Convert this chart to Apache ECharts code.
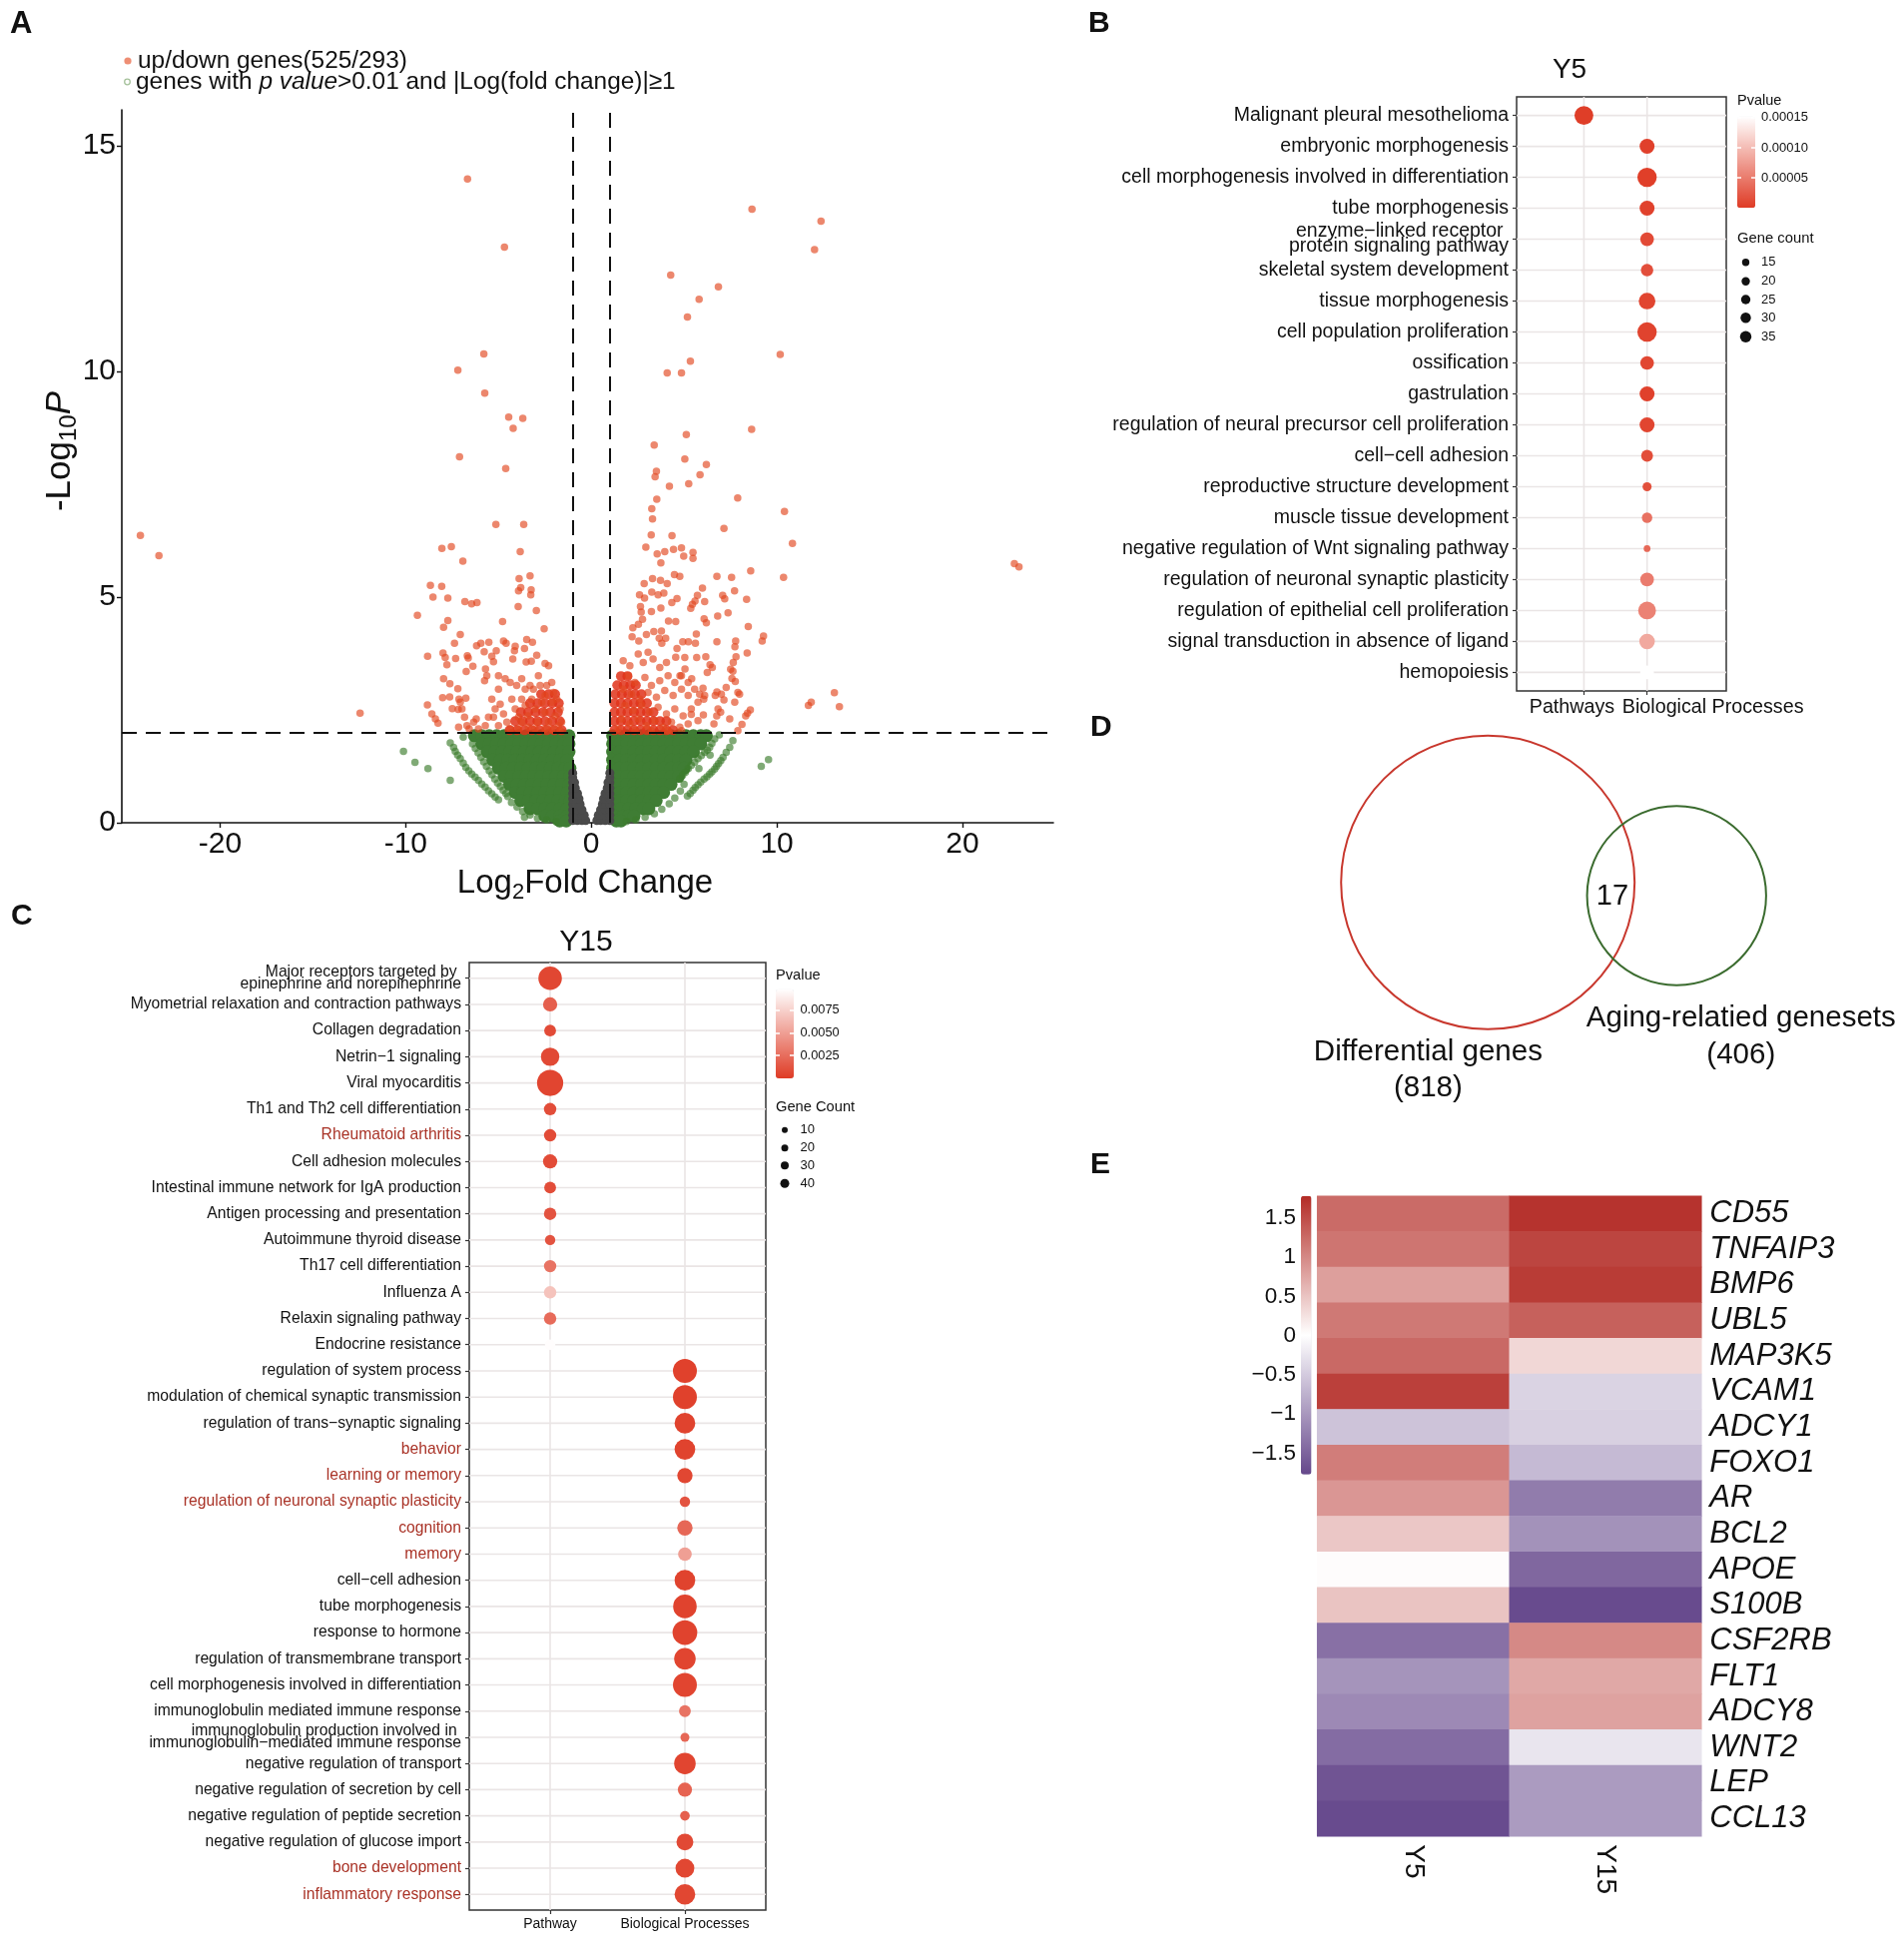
<!DOCTYPE html>
<html><head><meta charset="utf-8">
<script src="https://cdn.jsdelivr.net/npm/echarts@6/dist/echarts.min.js"></script>
<style>html,body{margin:0;padding:0;background:#fff}#c{width:1901px;height:1963px}</style>
</head><body><div id="c"></div><script>
const FONT = '"Liberation Sans", Arial, Helvetica, sans-serif';
const INK = '#111111';

// ================= Panel A : volcano =================
const upDownCounts = [525, 293];
const fcThreshold = 1;
const log10pThreshold = 2;
const volcanoXTicks = [-20, -10, 0, 10, 20];
const volcanoYTicks = [0, 5, 10, 15];

const redPoints = [
[-6.67,14.27],[-4.68,12.76],[8.66,13.6],[12.38,13.33],[12.03,12.70],[4.28,12.14],[6.85,11.88],[5.81,11.60],[5.18,11.21],[-5.79,10.39],[-7.19,10.03],[-5.74,9.52],[-4.45,8.99],[-3.69,8.96],[-4.21,8.74],[-7.10,8.11],[-4.61,7.85],[5.34,10.23],[4.09,9.97],[4.86,9.97],[10.18,10.38],[8.64,8.72],[5.12,8.60],[3.39,8.37],[5.04,8.06],[6.20,7.94],[3.51,7.79],[5.86,7.71],[3.44,7.67],
[-24.3,6.37],[-23.3,5.92],[23.05,5.67],[22.8,5.74],[-12.46,2.43],[11.70,2.60],[11.85,2.67],[13.10,2.88],[13.37,2.57],
[4.21,7.46],[5.25,7.51],[3.53,7.17],[7.89,7.20],[10.41,6.90],[3.26,6.96],[3.30,6.73],[7.15,6.52],[10.84,6.19],[3.23,6.38],[4.35,6.36],[2.94,6.11],[3.55,5.96],[3.96,6.01],[4.43,6.06],[4.86,6.09],[4.98,5.91],[5.48,5.99],[5.48,5.86],[3.75,5.76],[8.59,5.58],[10.36,5.44],[6.77,5.46],[7.56,5.44],[4.48,5.50],[4.77,5.46],[2.85,5.30],[3.30,5.41],[3.73,5.37],[4.09,5.30],[3.26,5.11],[3.60,5.05],[3.91,5.09],[2.60,5.05],[2.87,4.98],[5.99,5.20],[7.72,5.14],[8.37,4.95],[5.72,5.04],[5.59,4.91],[5.45,4.84],[5.36,4.75],[6.11,4.90],[7.08,5.04],[7.19,4.96],[4.34,4.88],[4.62,4.97],[2.65,4.79],[2.69,4.67],[3.24,4.68],[3.75,4.76],[6.81,4.58],[7.37,4.65],[6.08,4.52],[6.20,4.43],[4.16,4.47],[4.55,4.46],[2.24,4.32],[2.54,4.40],[2.76,4.51],[8.46,4.35],[9.28,4.14],[9.21,4.03],[2.20,4.12],[2.56,4.03],[2.97,4.17],[3.37,4.24],[3.78,4.25],[3.66,4.09],[4.01,4.09],[3.80,3.98],[5.66,4.18],[6.77,4.01],[7.78,4.03],[7.74,3.90],[8.40,3.76],[4.93,4.01],[5.23,4.01],[5.61,3.98],[4.62,3.86],[4.55,3.67],[5.04,3.66],[5.68,3.66],[6.17,3.68],[7.80,3.68],[7.65,3.55],[6.40,3.50],[6.52,3.44],[7.51,3.40],[7.63,3.36],[7.58,3.20],[6.25,3.33],[5.05,3.41],[4.78,3.26],[5.41,3.19],[7.76,3.13],[7.90,2.89],[7.99,2.85],[7.73,2.67],[6.77,2.90],[7.01,2.85],[7.27,3.00],[6.02,2.98],[5.84,2.85],[6.06,2.74],[6.68,2.82],[7.15,2.72],[6.83,2.52],[6.97,2.45],[6.76,2.37],[7.46,2.30],[8.57,2.50],[8.42,2.43],[8.32,2.37],[6.04,2.39],[5.39,2.40],[6.61,2.19],[8.12,2.18],[7.90,2.04],
[1.72,3.59],[2.08,3.48],[2.53,3.74],[2.80,3.55],[3.06,3.78],[3.33,3.63],[3.69,3.44],[4.05,3.55],[1.99,3.26],[2.35,3.11],[2.89,3.22],[3.24,3.04],[3.69,3.15],[4.14,3.26],[4.50,3.11],[4.86,3.26],[5.22,3.11],[1.72,2.96],[2.17,2.85],[2.62,2.74],[3.06,2.89],[3.51,2.78],[3.96,2.93],[4.41,2.82],[4.86,2.96],[5.22,2.82],[5.57,2.96],[1.81,2.60],[2.26,2.49],[2.71,2.60],[3.15,2.45],[3.60,2.56],[4.05,2.41],[4.50,2.52],[4.95,2.37],[5.39,2.52],[5.75,2.67],[6.11,2.82],[1.63,2.30],[2.08,2.19],[2.53,2.30],[2.97,2.15],[3.42,2.26],[3.87,2.12],[4.32,2.23],[4.77,2.12],[5.22,2.19],[5.75,2.26],[1.45,2.08],[2.35,2.04],[3.24,2.04],[4.14,2.04],[4.86,2.04],
[-5.14,6.61],[-3.64,6.61],[-8.05,6.08],[-7.54,6.12],[-6.92,5.80],[-3.83,6.01],[-8.67,5.26],[-8.06,5.24],[-8.53,5.00],[-7.73,4.98],[-6.81,4.90],[-6.45,4.85],[-6.16,4.88],[-3.89,5.41],[-3.30,5.47],[-3.92,5.14],[-3.80,5.21],[-3.24,5.16],[-3.26,5.05],[-3.94,4.79],[-2.96,4.70],[-9.37,4.60],[-7.73,4.48],[-7.96,4.33],[-4.78,4.46],[-2.54,4.30],[-7.06,4.17],[-8.82,3.69],[-7.99,3.76],[-7.87,3.66],[-7.78,3.50],[-7.37,3.98],[-7.31,3.64],[-6.68,3.70],[-6.63,3.65],[-6.38,3.47],[-6.74,3.35],[-6.18,3.92],[-5.95,3.98],[-5.52,4.00],[-5.77,3.79],[-5.36,3.69],[-5.12,3.81],[-5.27,3.57],[-4.73,4.03],[-4.59,3.98],[-4.10,3.91],[-4.14,3.81],[-3.60,3.86],[-3.48,4.06],[-3.17,4.00],[-2.94,3.71],[-3.23,3.58],[-3.51,3.56],[-4.23,3.63],[-2.49,3.53],[-2.30,3.48],[-5.70,3.41],[-5.63,3.26],[-5.75,3.15],[-7.96,3.19],[-7.62,3.08],[-8.01,2.77],[-7.63,2.79],[-7.19,2.97],[-7.13,2.74],[-7.49,2.53],[-7.17,2.51],[-6.76,2.76],[-8.83,2.61],[-8.59,2.41],[-8.40,2.30],[-8.26,2.21],[-6.20,2.30],[-7.06,2.67],[-6.97,2.52],[-6.83,2.34],[-6.70,2.15],[-7.15,2.12],[-6.58,2.08],[-5.36,2.74],[-5.18,2.52],[-5.27,2.34],[-4.91,2.63],[-4.73,2.41],[-4.55,2.23],[-5.00,2.15],[-4.37,2.08],[-4.28,2.74],[-4.10,2.52],[-3.92,2.34],[-3.75,2.74],[-3.56,2.60],[-3.42,2.37],[-3.21,2.74],[-3.03,2.52],[-2.89,2.23],[-2.67,2.67],[-2.49,2.45],[-2.31,2.23],[-2.13,2.67],[-1.95,2.37],[-1.77,2.15],[-2.40,3.04],[-2.04,2.89],[-1.68,2.52],[-1.60,2.23],[-2.76,3.04],[-3.12,2.96],[-3.56,2.96],[-4.02,3.04],[-4.37,3.11],[-4.64,3.19],[-5.00,2.96],[-5.54,2.34],[-5.71,2.15],[-6.08,2.08],[-6.34,2.23],[-5.00,3.26],[-3.39,2.12],[-3.92,2.08],[-3.03,2.08],[-2.13,2.08],[-1.68,2.04],[-2.49,2.08],[-3.75,2.23],[-3.30,3.04],[-3.75,3.19],[-2.85,3.26],[-2.13,3.11],[-1.86,2.74],[-2.49,2.82]
];
const redCoreRows = [
[2.05,[1.25,1.6,1.95,2.3,2.65,3.0,3.35,3.7,4.05,4.4,-4.4,-4.0,-3.6,-3.2,-2.8,-2.4,-2.0,-1.6]],
[2.25,[1.25,1.6,1.95,2.3,2.65,3.0,3.35,3.7,4.05,-4.1,-3.7,-3.3,-2.9,-2.5,-2.1,-1.7]],
[2.45,[1.25,1.6,1.95,2.3,2.65,3.0,3.35,-3.8,-3.4,-3.0,-2.6,-2.2,-1.8]],
[2.65,[1.25,1.6,1.95,2.3,2.65,3.0,-3.3,-2.9,-2.5,-2.1,-1.75]],
[2.85,[1.3,1.65,2.0,2.35,2.7,-2.7,-2.3,-1.95]],
[3.05,[1.4,1.75,2.1,2.4]],
[3.25,[1.6,1.95]]
];
const greenCoreRows = [
[1.93,[-6.3,-5.9,-5.5,-5.1,-4.7,-4.3,-3.9,-3.5,-3.1,-2.7,-2.3,-1.9,-1.5,-1.2,1.15,1.5,1.9,2.3,2.7,3.1,3.5,3.9,4.3,4.7,5.1,5.5,5.9,6.2]],
[1.75,[-5.9,-5.5,-5.1,-4.7,-4.3,-3.9,-3.5,-3.1,-2.7,-2.3,-1.9,-1.5,-1.2,1.15,1.5,1.9,2.3,2.7,3.1,3.5,3.9,4.3,4.7,5.1,5.5,5.9]],
[1.57,[-5.6,-5.2,-4.8,-4.4,-4.0,-3.6,-3.2,-2.8,-2.4,-2.0,-1.6,-1.2,1.15,1.5,1.9,2.3,2.7,3.1,3.5,3.9,4.3,4.7,5.1,5.5]],
[1.39,[-5.3,-4.9,-4.5,-4.1,-3.7,-3.3,-2.9,-2.5,-2.1,-1.7,-1.3,1.15,1.5,1.9,2.3,2.7,3.1,3.5,3.9,4.3,4.7,5.1]],
[1.21,[-5.0,-4.6,-4.2,-3.8,-3.4,-3.0,-2.6,-2.2,-1.8,-1.4,-1.15,1.15,1.5,1.9,2.3,2.7,3.1,3.5,3.9,4.3,4.7,5.0]],
[1.03,[-4.7,-4.3,-3.9,-3.5,-3.1,-2.7,-2.3,-1.9,-1.5,-1.15,1.15,1.5,1.9,2.3,2.7,3.1,3.5,3.9,4.3,4.7]],
[0.85,[-4.4,-4.0,-3.6,-3.2,-2.8,-2.4,-2.0,-1.6,-1.2,1.15,1.5,1.9,2.3,2.7,3.1,3.5,3.9,4.3]],
[0.67,[-4.1,-3.7,-3.3,-2.9,-2.5,-2.1,-1.7,-1.3,1.15,1.5,1.9,2.3,2.7,3.1,3.5,3.9]],
[0.49,[-3.8,-3.4,-3.0,-2.6,-2.2,-1.8,-1.4,-1.15,1.15,1.5,1.9,2.3,2.7,3.1,3.5]],
[0.31,[-3.3,-2.9,-2.5,-2.1,-1.7,-1.3,1.2,1.6,2.0,2.4,2.8,3.1]],
[0.15,[-2.5,-2.1,-1.7,-1.3,1.3,1.7,2.0,2.3]],
[0.04,[-1.7,-1.35,1.35,1.6]]
];
const greenPoints = [
[-10.12,1.58],[-9.5,1.34],[-8.8,1.2],[-7.6,0.94],[-7.6,1.77],[-7.42,1.67],
[-7.33,1.58],[-7.2,1.5],[-7.06,1.42],[-6.9,1.32],[-6.76,1.23],[-6.6,1.15],[-6.44,1.08],[-6.26,1.01],[-6.08,0.94],[-5.9,0.86],[-5.72,0.79],[-5.54,0.71],[-5.36,0.64],[-5.18,0.57],[-5.0,0.51],
[-6.4,1.75],[-6.25,1.65],[-6.1,1.55],[-5.95,1.45],[-5.8,1.35],[-5.65,1.25],[-5.5,1.15],[-5.35,1.06],[-5.2,0.97],[-5.05,0.88],[-4.9,0.8],[-4.75,0.72],[-4.6,0.65],
[-6.9,1.9],[-4.3,0.45],[-4.0,0.35],[-3.7,0.25],[-3.3,0.17],[-2.9,0.1],[-2.4,0.06],[-1.9,0.02],[-4.5,0.58],[-3.6,0.12],
[9.16,1.25],[9.55,1.40],
[7.63,1.82],[7.46,1.67],[7.27,1.56],[7.10,1.45],[6.98,1.38],[6.86,1.31],[6.75,1.25],[6.65,1.19],[6.5,1.13],[6.38,1.08],[6.23,1.02],[6.08,0.97],[5.9,0.9],[5.75,0.84],[5.6,0.78],[5.48,0.72],[5.33,0.65],[5.18,0.59],
[6.65,1.86],[6.5,1.76],[6.38,1.67],[6.25,1.61],[6.11,1.56],[5.93,1.49],[5.75,1.42],[5.57,1.34],[5.39,1.27],[5.23,1.2],[5.07,1.12],[4.92,1.05],[4.77,0.97],
[6.9,1.95],[4.8,0.7],[4.5,0.55],[4.2,0.42],[3.8,0.3],[3.4,0.2],[2.9,0.12],[2.4,0.06],[1.9,0.03],[5.0,0.85],[5.8,1.2],[6.4,1.5]
];
const greyRows = [
[0.05,[-1.0,-0.75,-0.5,-0.3,0.3,0.5,0.75,1.0]],
[0.17,[-1.0,-0.75,-0.5,-0.38,0.38,0.5,0.75,1.0]],
[0.29,[-1.0,-0.75,-0.5,0.5,0.75,1.0]],
[0.41,[-1.0,-0.8,-0.6,0.6,0.8,1.0]],
[0.53,[-1.0,-0.8,-0.66,0.66,0.8,1.0]],
[0.65,[-1.0,-0.85,-0.74,0.74,0.85,1.0]],
[0.77,[-1.0,-0.86,0.86,1.0]],
[0.89,[-1.0,-0.9,0.9,1.0]],
[1.0,[-1.0,1.0]],
[1.1,[-1.0,1.0]]
];
function fromRows(r){const o=[];r.forEach(([y,xs])=>xs.forEach(x=>o.push([x,y])));return o;}

// ================= Panel B =================
const bTitle = 'Y5';
const bGroups = ['Pathways', 'Biological Processes'];
const bTerms = ['Malignant pleural mesothelioma','embryonic morphogenesis','cell morphogenesis involved in differentiation','tube morphogenesis','enzyme\u2212linked receptor \nprotein signaling pathway','skeletal system development','tissue morphogenesis','cell population proliferation','ossification','gastrulation','regulation of neural precursor cell proliferation','cell\u2212cell adhesion','reproductive structure development','muscle tissue development','negative regulation of Wnt signaling pathway','regulation of neuronal synaptic plasticity','regulation of epithelial cell proliferation','signal transduction in absence of ligand','hemopoiesis'];
const bGroupOf = [0,1,1,1,1,1,1,1,1,1,1,1,1,1,1,1,1,1,1];
const bGeneCount = [34,27,35,27,25,23,30,35,25,27,27,22,18,20,15,25,32,28,25];
const bPvalue = [0.000002,0.000004,0.000003,0.000005,0.000012,0.000015,0.000008,0.000006,0.000009,0.000005,0.000008,0.000014,0.000016,0.000042,0.000035,0.00005,0.000055,0.000085,0.000152];
const bPTicks = [0.00005, 0.0001, 0.00015];
const bCountLegend = [15,20,25,30,35];

// ================= Panel C =================
const cTitle = 'Y15';
const cGroups = ['Pathway', 'Biological Processes'];
const cTerms = ['Major receptors targeted by \nepinephrine and norepinephrine','Myometrial relaxation and contraction pathways','Collagen degradation','Netrin\u22121 signaling','Viral myocarditis','Th1 and Th2 cell differentiation','Rheumatoid arthritis','Cell adhesion molecules','Intestinal immune network for IgA production','Antigen processing and presentation','Autoimmune thyroid disease','Th17 cell differentiation','Influenza A','Relaxin signaling pathway','Endocrine resistance','regulation of system process','modulation of chemical synaptic transmission','regulation of trans\u2212synaptic signaling','behavior','learning or memory','regulation of neuronal synaptic plasticity','cognition','memory','cell\u2212cell adhesion','tube morphogenesis','response to hormone','regulation of transmembrane transport','cell morphogenesis involved in differentiation','immunoglobulin mediated immune response','immunoglobulin production involved in \nimmunoglobulin\u2212mediated immune response','negative regulation of transport','negative regulation of secretion by cell','negative regulation of peptide secretion','negative regulation of glucose import','bone development','inflammatory response'];
const cGroupOf = [0,0,0,0,0,0,0,0,0,0,0,0,0,0,0,1,1,1,1,1,1,1,1,1,1,1,1,1,1,1,1,1,1,1,1,1];
const cGeneCount = [38,18,14,26,45,15,15,18,14,15,12,15,15,15,12,39,39,31,31,20,12,20,17,31,38,41,33,39,14,10,33,18,11,23,27,31];
const cPvalue = [0.0006,0.0018,0.0008,0.0007,0.0005,0.0009,0.0008,0.0008,0.0009,0.0012,0.0012,0.0028,0.0068,0.0024,0.0097,0.0003,0.0003,0.0004,0.0004,0.0006,0.0012,0.0022,0.0050,0.0004,0.0004,0.0004,0.0005,0.0005,0.0028,0.0022,0.0005,0.0020,0.0018,0.0007,0.0006,0.0006];
const cAgingTerms = ['Rheumatoid arthritis','behavior','learning or memory','regulation of neuronal synaptic plasticity','cognition','memory','bone development','inflammatory response'];
const cPTicks = [0.0025, 0.005, 0.0075];
const cCountLegend = [10,20,30,40];

// ================= Panel D =================
const vennSets = ['Differential genes', 'Aging-relatied genesets'];
const vennCounts = [818, 406];
const vennOverlap = 17;

// ================= Panel E =================
const heatSamples = ['Y5', 'Y15'];
const heatGenes = ['CD55','TNFAIP3','BMP6','UBL5','MAP3K5','VCAM1','ADCY1','FOXO1','AR','BCL2','APOE','S100B','CSF2RB','FLT1','ADCY8','WNT2','LEP','CCL13'];
const heatY5  = [1.24,1.16,0.81,1.13,1.26,1.60,-0.57,1.09,0.88,0.47,0.03,0.50,-1.37,-1.03,-1.13,-1.41,-1.64,-1.73];
const heatY15 = [1.71,1.56,1.64,1.33,0.34,-0.42,-0.45,-0.66,-1.26,-1.05,-1.46,-1.73,0.99,0.73,0.78,-0.25,-0.96,-0.96];
const heatTicks = [-1.5,-1,-0.5,0,0.5,1,1.5];

// ---------- layout (pixels) ----------
const L = {
  A: {left:122, top:110, width:933, height:714, xMin:-25.3, xMax:24.9, yMax:15.8},
  B: {left:1519, top:97, width:210, height:595},
  C: {left:470, top:964, width:297, height:949},
  Bbar: {left:1740, top:116.7, width:18, height:91.6},
  Cbar: {left:777, top:990.7, width:18, height:89.3},
  E: {left:1319.2, top:1197.7, width:385.1, height:641.6},
  Ebar: {left:1303, top:1197.7, width:10.5, height:279},
  D: {left:1313.8, top:707.4, width:499.8, height:411.6}
};
const vennGeom = [
  {cx:0, cy:0, r:1, lx:-0.407, ly:1.16, cy2:1.403, color:'#C8372D'},
  {cx:1.286, cy:0.09, r:0.61, lx:1.725, ly:0.927, cy2:1.176, color:'#3A6B2E'}
];
const vennOverlapPos = [0.849, 0.099];

const sizeB = c => 1.12*(5.53*Math.sqrt(c) - 15.4);
const sizeC = c => 1.08*(4.512*Math.sqrt(c) - 5.97);

const gridLineColor = '#EAE5E5';
function dotAxisX(gi, min, max, fs, rich, fmt){
  return {gridIndex:gi, type:'value', min, max,
    axisLine:{show:false, onZero:false},
    axisTick:{show:true, customValues:[0,1], length:4, lineStyle:{color:'#333', width:1.2}},
    axisLabel:{customValues:[0,1], fontSize:fs, color:INK, fontFamily:FONT, margin:7, formatter:fmt, rich:rich},
    splitLine:{show:false}};
}
function dotAxisY(gi, terms, fs, lh, rich, fmt){
  const vals = terms.map((_,i)=>i);
  return {gridIndex:gi, type:'value', min:-0.6, max:terms.length-1+0.6, inverse:true,
    axisLine:{show:false, onZero:false},
    axisTick:{show:true, customValues:vals, length:4, lineStyle:{color:'#333', width:1.2}},
    axisLabel:{customValues:vals, fontSize:fs, lineHeight:lh, color:INK, fontFamily:FONT, margin:8, formatter:fmt, rich:rich},
    splitLine:{show:false}};
}
function gridSeries(xi, yi, nRows){
  const items = [];
  for (let i=0;i<nRows;i++) items.push([0,i]);
  items.push([1,0]); items.push([1,1]);
  return {type:'custom', xAxisIndex:xi, yAxisIndex:yi, silent:true, z:1, data:items,
    renderItem:(params, api)=>{
      const cs = params.coordSys;
      const kind = api.value(0), v = api.value(1);
      if (kind === 0) {
        const y = api.coord([0, v])[1];
        return {type:'line', shape:{x1:cs.x, y1:y, x2:cs.x+cs.width, y2:y}, style:{stroke:gridLineColor, lineWidth:1.6}};
      }
      const x = api.coord([v, 0])[0];
      return {type:'line', shape:{x1:x, y1:cs.y, x2:x, y2:cs.y+cs.height}, style:{stroke:gridLineColor, lineWidth:1.6}};
    }};
}

const bData = bTerms.map((t,i)=>[bGroupOf[i], i, bGeneCount[i], bPvalue[i]]);
const cData = cTerms.map((t,i)=>[cGroupOf[i], i, cGeneCount[i], cPvalue[i]]);
const heatData = [];
heatGenes.forEach((g,i)=>{heatData.push([0,i,heatY5[i]]); heatData.push([1,i,heatY15[i]]);});

function T(x, y, text, size, o){
  o = o || {};
  return {type:'text', x, y, rotation:o.rotation||0, silent:true, z:100,
    style:{text, fontFamily:FONT, fontSize:size, fontWeight:o.bold?'bold':'normal', fontStyle:o.italic?'italic':'normal',
      fill:o.color||INK, align:o.align||'left', verticalAlign:o.valign||'middle', rich:o.rich}};
}
function dot(x, y, r, fill, stroke){
  return {type:'circle', silent:true, z:100, shape:{cx:x, cy:y, r}, style:{fill:fill||'#111', stroke:stroke||null, lineWidth:stroke?1.3:0}};
}

const graphics = [
  T(10, 24, 'A', 31, {bold:true}),
  T(1090, 24, 'B', 30, {bold:true}),
  T(11, 918, 'C', 30, {bold:true}),
  T(1092, 729, 'D', 30, {bold:true}),
  T(1092, 1167, 'E', 30, {bold:true}),
  dot(128, 61, 3.6, '#EE8E74'),
  T(138, 61, 'up/down genes(' + upDownCounts[0] + '/' + upDownCounts[1] + ')', 24.4),
  dot(127.5, 82, 2.8, 'none', '#A6C29C'),
  T(136, 82, 'genes with {i|p value}>0.01 and |Log(fold change)|\u22651', 24.4, {rich:{i:{fontStyle:'italic', fontSize:24.4, fontFamily:FONT, fill:INK}}}),
  T(586, 885, '{n|Log}{s|2}{n|Fold Change}', 33, {align:'center', rich:{n:{fontSize:33, fontFamily:FONT, fill:INK, lineHeight:40}, s:{fontSize:22, fontFamily:FONT, fill:INK, lineHeight:16, verticalAlign:'bottom'}}}),
  T(60, 452, '{n|-Log}{s|10}{i|P}', 35, {align:'center', rotation:Math.PI/2, rich:{n:{fontSize:35, fontFamily:FONT, fill:INK, lineHeight:42}, s:{fontSize:24, fontFamily:FONT, fill:INK, lineHeight:18, verticalAlign:'bottom'}, i:{fontSize:35, fontStyle:'italic', fontFamily:FONT, fill:INK, lineHeight:42}}}),
  T(1572, 70, bTitle, 28, {align:'center'}),
  T(587, 944, cTitle, 30, {align:'center'}),
  T(1740, 101, 'Pvalue', 14.5),
  T(1740, 239, 'Gene count', 14.8),
  T(777, 977, 'Pvalue', 14.6),
  T(777, 1109, 'Gene Count', 14.7)
];
const bLegY = [262.7,281.7,300,318.3,337.3];
bCountLegend.forEach((v,i)=>{ graphics.push(dot(1748.5, bLegY[i], 3.7 + (v-15)*0.1)); graphics.push(T(1764, bLegY[i], String(v), 13)); });
const cLegY = [1131.7,1149.7,1167.3,1185.3];
cCountLegend.forEach((v,i)=>{ graphics.push(dot(786, cLegY[i], 3.0 + (v-10)*0.05)); graphics.push(T(801.5, cLegY[i], String(v), 13)); });

const option = {
  animation:false,
  backgroundColor:'#ffffff',
  textStyle:{fontFamily:FONT},
  grid:[
    {left:L.A.left, top:L.A.top, width:L.A.width, height:L.A.height},
    {left:L.B.left, top:L.B.top, width:L.B.width, height:L.B.height, show:true, borderColor:'#333', borderWidth:1.5, backgroundColor:'transparent'},
    {left:L.C.left, top:L.C.top, width:L.C.width, height:L.C.height, show:true, borderColor:'#333', borderWidth:1.5, backgroundColor:'transparent'},
    {left:L.Bbar.left, top:L.Bbar.top, width:L.Bbar.width, height:L.Bbar.height},
    {left:L.Cbar.left, top:L.Cbar.top, width:L.Cbar.width, height:L.Cbar.height},
    {left:L.E.left, top:L.E.top, width:L.E.width, height:L.E.height},
    {left:L.Ebar.left, top:L.Ebar.top, width:L.Ebar.width, height:L.Ebar.height},
    {left:L.D.left, top:L.D.top, width:L.D.width, height:L.D.height}
  ],
  xAxis:[
    {gridIndex:0, type:'value', min:L.A.xMin, max:L.A.xMax,
      axisLine:{show:true, onZero:false, lineStyle:{color:INK, width:1.6}},
      axisTick:{show:true, customValues:volcanoXTicks, length:5, lineStyle:{color:INK, width:1.4}},
      axisLabel:{customValues:volcanoXTicks, fontSize:30, color:INK, margin:7},
      splitLine:{show:false}},
    dotAxisX(1, -1.066, 2.254, 19.7,
      {a:{fontSize:19.7, color:INK, fontFamily:FONT, padding:[0,24,0,0]}, b:{fontSize:19.7, color:INK, fontFamily:FONT, padding:[0,0,0,132]}},
      v => v===0 ? '{a|'+bGroups[0]+'}' : '{b|'+bGroups[1]+'}'),
    dotAxisX(2, -0.6, 1.6, 14, null, v => cGroups[Math.round(v)]),
    {gridIndex:3, type:'value', show:false, min:0, max:1},
    {gridIndex:4, type:'value', show:false, min:0, max:1},
    {gridIndex:5, type:'category', data:heatSamples, axisLine:{show:false}, axisTick:{show:false},
      axisLabel:{rotate:-90, fontSize:28, color:INK, margin:8, interval:0}},
    {gridIndex:6, type:'value', show:false, min:0, max:1},
    {gridIndex:7, type:'value', show:false, min:-1.2, max:2.2}
  ],
  yAxis:[
    {gridIndex:0, type:'value', min:0, max:L.A.yMax,
      axisLine:{show:true, onZero:false, lineStyle:{color:INK, width:1.6}},
      axisTick:{show:true, customValues:volcanoYTicks, length:5, lineStyle:{color:INK, width:1.4}},
      axisLabel:{customValues:volcanoYTicks, fontSize:30, color:INK, margin:6},
      splitLine:{show:false}},
    dotAxisY(1, bTerms, 19.5, 15, null, v => bTerms[Math.round(v)]),
    dotAxisY(2, cTerms, 15.7, 12,
      {r:{color:'#A93226', fontSize:15.7, fontFamily:FONT}},
      v => { const t = cTerms[Math.round(v)]; return cAgingTerms.indexOf(t) >= 0 ? '{r|'+t+'}' : t; }),
    {gridIndex:3, type:'value', position:'right', min:0, max:0.000152, z:10,
      axisLine:{show:false, onZero:false},
      axisTick:{show:true, inside:true, length:4, customValues:bPTicks, lineStyle:{color:'#ffffff', width:1.5}},
      axisLabel:{customValues:bPTicks, fontSize:13, color:INK, margin:6, formatter:v=>v.toFixed(5)},
      splitLine:{show:false}},
    {gridIndex:3, type:'value', position:'left', min:0, max:0.000152, z:10,
      axisLine:{show:false, onZero:false},
      axisTick:{show:true, inside:true, length:4, customValues:bPTicks, lineStyle:{color:'#ffffff', width:1.5}},
      axisLabel:{show:false}, splitLine:{show:false}},
    {gridIndex:4, type:'value', position:'right', min:0, max:0.0098, z:10,
      axisLine:{show:false, onZero:false},
      axisTick:{show:true, inside:true, length:4, customValues:cPTicks, lineStyle:{color:'#ffffff', width:1.5}},
      axisLabel:{customValues:cPTicks, fontSize:12.8, color:INK, margin:6.5, formatter:v=>v.toFixed(4)},
      splitLine:{show:false}},
    {gridIndex:4, type:'value', position:'left', min:0, max:0.0098, z:10,
      axisLine:{show:false, onZero:false},
      axisTick:{show:true, inside:true, length:4, customValues:cPTicks, lineStyle:{color:'#ffffff', width:1.5}},
      axisLabel:{show:false}, splitLine:{show:false}},
    {gridIndex:5, type:'category', data:heatGenes, inverse:true, position:'right',
      axisLine:{show:false}, axisTick:{show:false},
      axisLabel:{fontSize:31, fontStyle:'italic', color:INK, margin:8, interval:0}},
    {gridIndex:6, type:'value', position:'left', min:-1.77, max:1.78,
      axisLine:{show:false, onZero:false}, axisTick:{show:false},
      axisLabel:{customValues:heatTicks, fontSize:22.5, color:INK, margin:5, formatter:v => v<0 ? '\u2212'+Math.abs(v) : String(v)},
      splitLine:{show:false}},
    {gridIndex:7, type:'value', show:false, min:-1.2, max:1.6, inverse:true}
  ],
  visualMap:[
    {type:'continuous', seriesIndex:5, dimension:3, min:0, max:0.000152, inRange:{color:['#DF3B25','#FFFFFF']},
      left:L.Bbar.left, top:L.Bbar.top, itemWidth:L.Bbar.width, itemHeight:L.Bbar.height, padding:0, calculable:false, text:null, hoverLink:false},
    {type:'continuous', seriesIndex:6, dimension:3, min:0, max:0.0098, inRange:{color:['#DF3B25','#FFFFFF']},
      left:L.Cbar.left, top:L.Cbar.top, itemWidth:L.Cbar.width, itemHeight:L.Cbar.height, padding:0, calculable:false, text:null, hoverLink:false},
    {type:'continuous', seriesIndex:7, dimension:2, min:-1.77, max:1.78, inRange:{color:['#65478B','#FFFFFF','#B32B25']},
      left:L.Ebar.left, top:L.Ebar.top, itemWidth:L.Ebar.width, itemHeight:L.Ebar.height, padding:0, calculable:false, text:null, hoverLink:false}
  ],
  series:[
    {type:'scatter', xAxisIndex:0, yAxisIndex:0, data:fromRows(greenCoreRows), symbolSize:13, silent:true,
      itemStyle:{color:'#3F7D34', opacity:1}},
    {type:'scatter', xAxisIndex:0, yAxisIndex:0, data:greenPoints, symbolSize:7.5, silent:true,
      itemStyle:{color:'rgba(60,125,45,0.65)', opacity:1}},
    {type:'scatter', xAxisIndex:0, yAxisIndex:0, data:fromRows(greyRows), symbolSize:9, silent:true,
      itemStyle:{color:'#4A4A4A', opacity:1}},
    {type:'scatter', xAxisIndex:0, yAxisIndex:0, data:fromRows(redCoreRows), symbolSize:10, silent:true,
      itemStyle:{color:'rgba(224,50,26,0.85)', opacity:1}},
    {type:'scatter', xAxisIndex:0, yAxisIndex:0, data:redPoints, symbolSize:7.5, silent:true,
      itemStyle:{color:'rgba(226,70,30,0.65)', opacity:1},
      markLine:{silent:true, symbol:['none','none'], label:{show:false},
        lineStyle:{type:[15,9], color:INK, width:2},
        data:[{xAxis:-fcThreshold},{xAxis:fcThreshold},{yAxis:log10pThreshold}]}},
    {type:'scatter', xAxisIndex:1, yAxisIndex:1, data:bData, symbolSize:v=>sizeB(v[2]), silent:true, z:5, itemStyle:{opacity:1}},
    {type:'scatter', xAxisIndex:2, yAxisIndex:2, data:cData, symbolSize:v=>sizeC(v[2]), silent:true, z:5, itemStyle:{opacity:1}},
    {type:'heatmap', xAxisIndex:5, yAxisIndex:7, data:heatData, silent:true, itemStyle:{borderWidth:0}},
    {type:'custom', xAxisIndex:7, yAxisIndex:9, silent:true, data:[0,1,2].map(i=>[i]),
      renderItem:(params, api)=>{
        const i = api.value(0);
        if (i === 2) {
          const p = api.coord(vennOverlapPos);
          return {type:'text', x:p[0], y:p[1], style:{text:String(vennOverlap), fontFamily:FONT, fontSize:29, fill:INK, align:'center', verticalAlign:'middle'}};
        }
        const g = vennGeom[i];
        const c = api.coord([g.cx, g.cy]);
        const s = api.size([g.r, g.r]);
        const l1 = api.coord([g.lx, g.ly]);
        const l2 = api.coord([g.lx, g.cy2]);
        return {type:'group', children:[
          {type:'ellipse', shape:{cx:c[0], cy:c[1], rx:Math.abs(s[0]), ry:Math.abs(s[1])}, style:{fill:'none', stroke:g.color, lineWidth:2}},
          {type:'text', x:l1[0], y:l1[1], style:{text:vennSets[i], fontFamily:FONT, fontSize:29.5, fill:INK, align:'center', verticalAlign:'middle'}},
          {type:'text', x:l2[0], y:l2[1], style:{text:'('+vennCounts[i]+')', fontFamily:FONT, fontSize:29.5, fill:INK, align:'center', verticalAlign:'middle'}}
        ]};
      }},
    gridSeries(1, 1, bTerms.length),
    gridSeries(2, 2, cTerms.length)
  ],
  graphic:graphics
};
const chart = echarts.init(document.getElementById('c'), null, {renderer:'canvas'});
chart.setOption(option);
</script></body></html>
